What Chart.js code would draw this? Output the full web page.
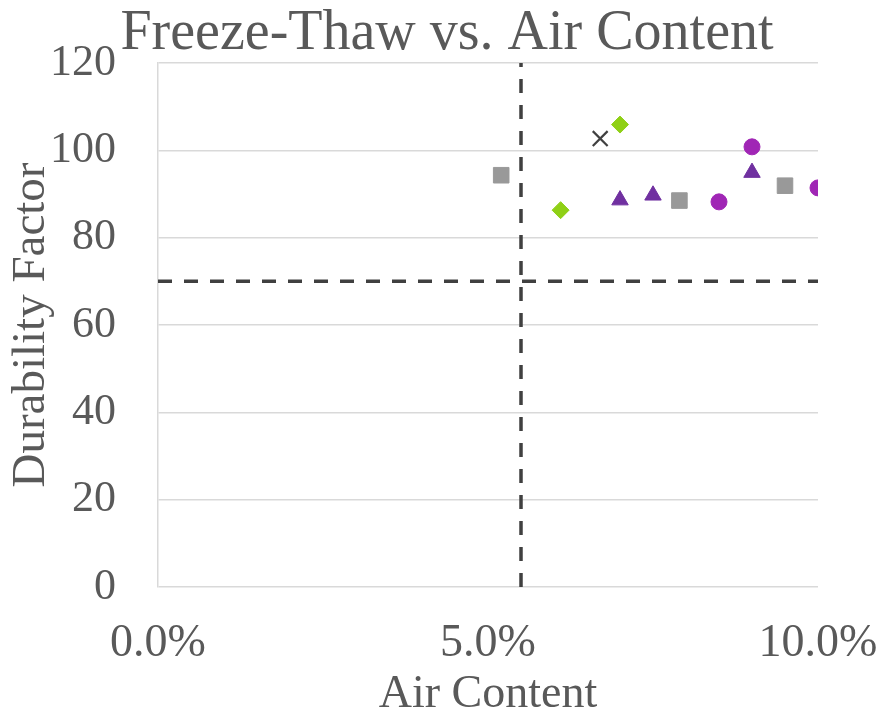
<!DOCTYPE html>
<html>
<head>
<meta charset="utf-8">
<script src="https://cdn.jsdelivr.net/npm/chart.js@4/dist/chart.umd.min.js"></script>
<style>
  html, body { margin: 0; padding: 0; background: #ffffff; }
  #wrap { width: 881px; height: 718px; }
</style>
</head>
<body>
<div id="wrap"><canvas id="c" width="881" height="718"></canvas></div>
<script>
// Air content (%) and durability factor for each mix group
const squareAir = [5.2, 7.9, 9.5];
const squareDF  = [94.3, 88.5, 91.9];
const diamondAir = [6.1, 7.0];
const diamondDF  = [86.3, 105.9];
const crossAir = [6.7];
const crossDF  = [102.7];
const triangleAir = [7.0, 7.5, 9.0];
const triangleDF  = [88.6, 89.7, 94.9];
const circleAir = [8.5, 9.0, 10.0];
const circleDF  = [88.2, 100.8, 91.4];

// Acceptance limits: minimum air content and minimum durability factor
const airLimit = 5.5;
const dfLimit = 70;

// Axis settings
const xTicks = [0, 5, 10];
const yMax = 120;
const yStep = 20;

const chartTitle = 'Freeze-Thaw vs. Air Content';

const pts = (xs, ys) => xs.map((x, i) => ({ x: x, y: ys[i] }));

const txt = '#595959';
const serif = '"Liberation Serif", "Times New Roman", serif';

function markerSet(label, xs, ys, style, color, radius, extra) {
  return Object.assign({
    label: label,
    data: pts(xs, ys),
    showLine: false,
    pointStyle: style,
    pointRadius: radius,
    pointBackgroundColor: color,
    pointBorderColor: color,
    pointBorderWidth: 1,
    order: 1
  }, extra || {});
}

const dashStyle = {
  showLine: true,
  borderColor: '#404040',
  borderWidth: 3.5,
  borderDash: [14, 12],
  pointRadius: 0,
  fill: false,
  order: 2
};

// Chart title, centred in the space reserved above the plot
const titlePlugin = {
  id: 'canvasTitle',
  afterDraw(chart) {
    const ctx = chart.ctx;
    ctx.save();
    ctx.fillStyle = txt;
    ctx.font = '56px ' + serif;
    ctx.textAlign = 'center';
    ctx.textBaseline = 'alphabetic';
    ctx.fillText(chartTitle, 447, 49);
    ctx.restore();
  }
};

new Chart(document.getElementById('c'), {
  type: 'scatter',
  data: {
    datasets: [
      markerSet('Mix A', squareAir, squareDF, 'rect', '#999999', 11),
      markerSet('Mix B', diamondAir, diamondDF, 'rectRot', '#8fd016', 8.5),
      markerSet('Mix C', crossAir, crossDF, 'crossRot', '#404040', 10.5, { pointBorderWidth: 2.2 }),
      markerSet('Mix D', triangleAir, triangleDF, 'triangle', '#7030a0', 9.5),
      markerSet('Mix E', circleAir, circleDF, 'circle', '#a026b5', 8),
      Object.assign({ label: 'Air limit', data: [{ x: airLimit, y: 0 }, { x: airLimit, y: yMax }] }, dashStyle),
      Object.assign({ label: 'DF limit', data: [{ x: xTicks[0], y: dfLimit }, { x: xTicks[xTicks.length - 1], y: dfLimit }] }, dashStyle)
    ]
  },
  plugins: [titlePlugin],
  options: {
    responsive: false,
    animation: false,
    layout: { padding: { left: 0, right: 63, top: 63, bottom: 0 } },
    plugins: {
      legend: { display: false },
      tooltip: { enabled: false },
      title: { display: false }
    },
    scales: {
      x: {
        type: 'linear',
        min: xTicks[0],
        max: xTicks[xTicks.length - 1],
        afterBuildTicks: (s) => { s.ticks = xTicks.map(v => ({ value: v })); },
        afterFit: (s) => { s.height = 131; s.paddingLeft = 0; s.paddingRight = 0; },
        ticks: {
          color: txt,
          padding: 29,
          maxRotation: 0,
          font: { family: serif, size: 46 },
          callback: (v) => v.toFixed(1) + '%'
        },
        grid: { display: false, drawTicks: false },
        border: { display: false },
        title: {
          display: true,
          text: 'Air Content',
          color: txt,
          font: { family: serif, size: 46, lineHeight: 1.0 },
          padding: { top: 0, bottom: 0 }
        }
      },
      y: {
        type: 'linear',
        min: 0,
        max: yMax,
        afterFit: (s) => { s.width = 158; s.paddingTop = 0; s.paddingBottom = 0; },
        ticks: {
          stepSize: yStep,
          color: txt,
          padding: 42,
          font: { family: serif, size: 44 }
        },
        grid: { color: '#d9d9d9', lineWidth: 1.5, drawTicks: false },
        border: { display: true, color: '#d9d9d9', width: 1.5 },
        title: {
          display: true,
          text: 'Durability Factor',
          color: txt,
          font: { family: serif, size: 47, lineHeight: 1.0 },
          padding: { top: 8, bottom: 0 }
        }
      }
    }
  }
});
</script>
</body>
</html>
